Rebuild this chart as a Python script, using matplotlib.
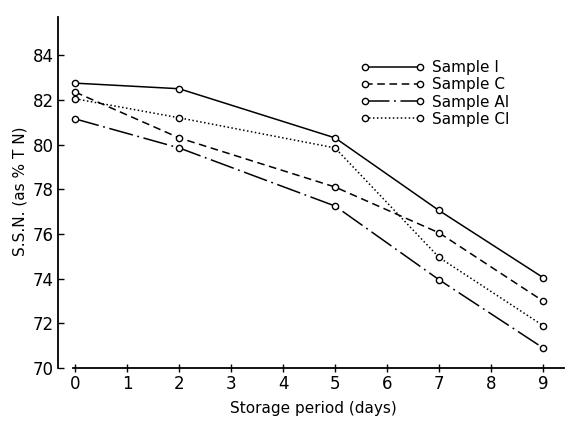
import numpy as np
import matplotlib
matplotlib.use('Agg')
import matplotlib.pyplot as plt

# Storage period (days)
days = [0, 2, 5, 7, 9]

# S.S.N. (as % T N) per sample
sample_i = [82.75, 82.5, 80.3, 77.05, 74.05]
sample_c = [82.35, 80.3, 78.1, 76.05, 73.0]
sample_ai = [81.15, 79.85, 77.25, 73.95, 70.9]
sample_ci = [82.05, 81.2, 79.85, 74.95, 71.9]

labels = ["Sample I", "Sample C", "Sample AI", "Sample CI"]
yticks = [70, 72, 74, 76, 78, 80, 82, 84]
xticks = list(range(10))

fig = plt.figure(figsize=(5.71, 4.22), dpi=100)
ax = fig.add_axes([58 / 571, 54 / 422, (569 - 58) / 571, (368 - 15) / 422])

styles = ['-', (0, (5, 3)), (0, (16, 3, 1.2, 3)), (0, (1, 1.6))]
series = [sample_i, sample_c, sample_ai, sample_ci]
for vals, ls, lab in zip(series, styles, labels):
    ax.plot(days, vals, linestyle=ls, color='black', linewidth=1.1,
            marker='o', markersize=4.5, markerfacecolor='white',
            markeredgecolor='black', markeredgewidth=1.0, label=lab)

ax.set_xlim(-0.33, 9.5)
ax.set_ylim(70, 85.8)
ax.set_xticks(xticks)
ax.set_yticks(yticks)

for s in ['top', 'right']:
    ax.spines[s].set_visible(False)
ax.spines['left'].set_bounds(70, 85.7)
ax.spines['bottom'].set_bounds(-0.05, 9.4)
ax.spines['left'].set_linewidth(1.3)
ax.spines['bottom'].set_linewidth(1.3)

ax.tick_params(axis='y', direction='in', length=4, width=1, labelsize=12, pad=3)
ax.tick_params(axis='x', direction='inout', length=6, width=1, labelsize=12, pad=2)

ax.set_ylabel("S.S.N. (as % T N)", fontsize=11, labelpad=4)
ax.set_xlabel("Storage period (days)", fontsize=11, labelpad=6)

leg = ax.legend(loc='upper left', bbox_to_anchor=(0.58, 0.89), frameon=False,
                numpoints=2, handlelength=4.2, handletextpad=0.5,
                labelspacing=0.15, fontsize=11, borderaxespad=0)

fig.savefig("out.png", dpi=100)
